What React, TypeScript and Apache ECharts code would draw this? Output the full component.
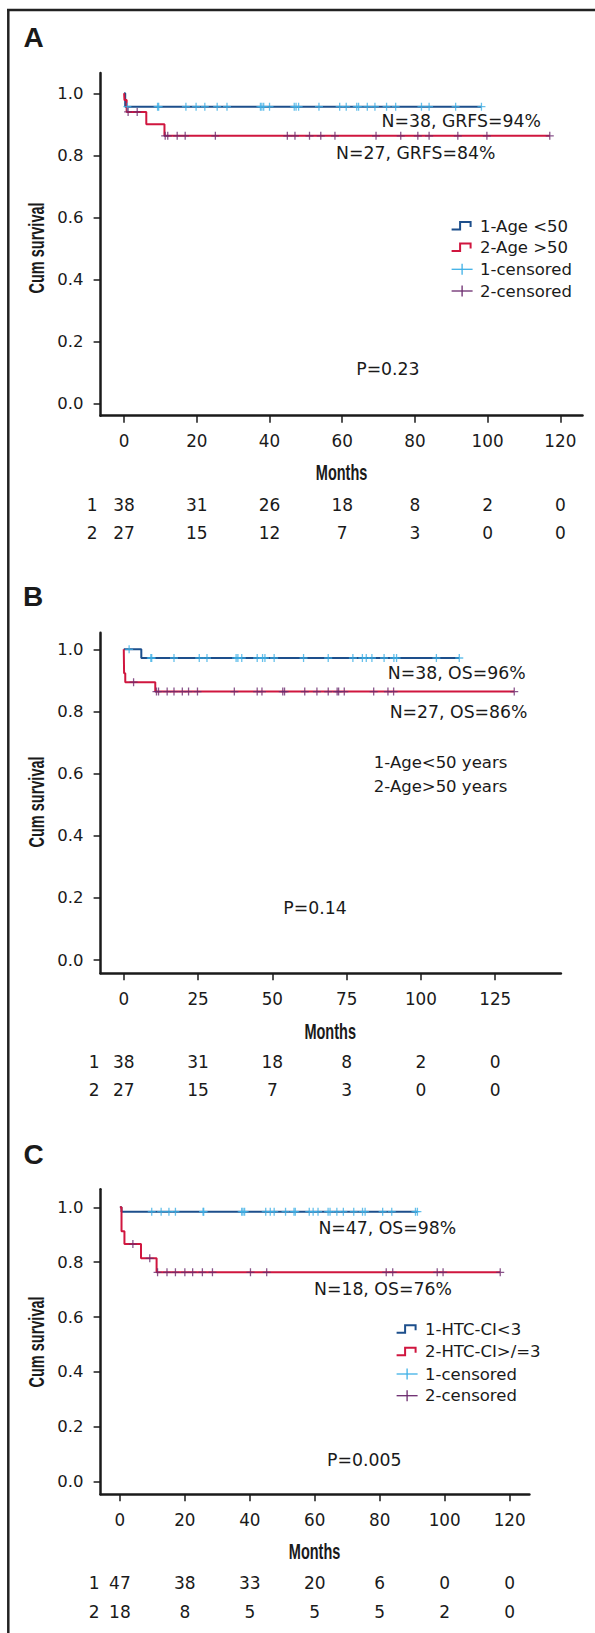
import React, { useEffect, useRef } from "react";
import * as echarts from "echarts";

type Pt = [number, number];

const FONT = "'DejaVu Sans', sans-serif";
const COND = "'Liberation Sans', Arial, sans-serif";
const BLUE = "#1d4f8c";
const RED = "#d0163f";
const LBLUE = "#3fb0e6";
const PURPLE = "#6b2a6e";
const INK = "#1a1a1a";

// ---------- Panel A (GRFS by age) ----------
const aTicks = [0, 20, 40, 60, 80, 100, 120];
const aRisk1 = [38, 31, 26, 18, 8, 2, 0];
const aRisk2 = [27, 15, 12, 7, 3, 0, 0];
const aCurve1: Pt[] = [[0, 1], [0.3, 0.957], [98.3, 0.957]];
const aCurve2: Pt[] = [[0, 1], [0.1, 0.978], [0.7, 0.94], [6.1, 0.9], [11.1, 0.863], [117.1, 0.863]];
const aCens1 = [0.9, 9.2, 9.5, 17.0, 19.8, 22.2, 25.6, 28.3, 37.5, 37.9, 38.4, 40.0, 46.8, 47.3, 48.0, 53.6, 59.3, 61.1, 64.0, 64.5, 66.9, 69.0, 72.2, 74.7, 81.8, 83.9, 91.2, 98.3];
const aCens2 = [1.1, 3.6, 11.3, 12.0, 14.6, 16.8, 25.1, 44.9, 47.0, 51.0, 54.1, 58.0, 69.3, 76.1, 80.8, 83.9, 91.8, 99.8, 117.1];

// ---------- Panel B (OS by age) ----------
const bTicks = [0, 25, 50, 75, 100, 125];
const bRisk1 = [38, 31, 18, 8, 2, 0];
const bRisk2 = [27, 15, 7, 3, 0, 0];
const bCurve1: Pt[] = [[0, 1], [5.9, 0.972], [112.9, 0.972]];
const bCurve2: Pt[] = [[0, 1], [0.1, 0.923], [0.5, 0.894], [10.6, 0.864], [131.4, 0.864]];
const bCens1 = [1.8, 9.1, 9.4, 16.9, 25.4, 28.0, 37.8, 38.4, 39.7, 44.9, 46.7, 47.5, 50.6, 60.5, 68.8, 77.1, 80.3, 81.6, 83.5, 87.6, 90.9, 91.8, 105.2, 112.9];
const bCens2 = [3.3, 11.0, 11.7, 14.6, 16.9, 19.7, 21.8, 24.8, 37.2, 44.9, 46.5, 53.5, 54.1, 60.9, 65.0, 68.8, 71.8, 72.3, 74.2, 84.1, 88.9, 90.8, 131.4];

// ---------- Panel C (OS by HTC-CI) ----------
const cTicks = [0, 20, 40, 60, 80, 100, 120];
const cRisk1 = [47, 38, 33, 20, 6, 0, 0];
const cRisk2 = [18, 8, 5, 5, 5, 2, 0];
const cCurve1: Pt[] = [[0, 1], [0.5, 0.984], [91.6, 0.984]];
const cCurve2: Pt[] = [[0, 1], [0.5, 0.913], [1.4, 0.866], [6.5, 0.814], [11.3, 0.763], [117.1, 0.763]];
const cCens1 = [9.8, 12.7, 15.1, 17.1, 25.6, 25.8, 37.5, 37.9, 38.4, 44.9, 46.3, 47.5, 51.0, 53.6, 54.0, 58.3, 59.5, 61.0, 64.1, 64.7, 66.8, 68.8, 72.0, 74.7, 75.5, 80.9, 83.7, 91.0, 91.6];
const cCens2 = [4.0, 9.2, 11.6, 14.5, 17.1, 20.0, 22.4, 25.4, 28.5, 40.2, 45.2, 82.0, 84.0, 97.7, 99.5, 117.1];

const yTicks = [0, 0.2, 0.4, 0.6, 0.8, 1.0];

const PLUS = "path://M0,4.2H10V5.8H0Z M4.2,0H5.8V10H4.2Z";

const survAt = (curve: Pt[], t: number) => {
  let v = curve[0][1];
  for (const [x, y] of curve) if (x <= t) v = y;
  return v;
};

const LEFT = 100.6;
const ANN = 17.3;

const panels = [
  {
    top: 73, bottom: 415.7, right: 582.5, xMin: -6.47, xMax: 126.1, yMin: -0.04, yMax: 1.0655,
    ticks: aTicks, risk1: aRisk1, risk2: aRisk2, curve1: aCurve1, curve2: aCurve2, cens1: aCens1, cens2: aCens2,
    riskTop: 490.85, riskH: 56.6, rowMargin: 3,
  },
  {
    top: 632.7, bottom: 973.3, right: 560.9, xMin: -7.8, xMax: 147.1, yMin: -0.0428, yMax: 1.0534,
    ticks: bTicks, risk1: bRisk1, risk2: bRisk2, curve1: bCurve1, curve2: bCurve2, cens1: bCens1, cens2: bCens2,
    riskTop: 1048.45, riskH: 55.4, rowMargin: 1,
  },
  {
    top: 1189.3, bottom: 1494.3, right: 529.4, xMin: -5.94, xMax: 126.08, yMin: -0.0459, yMax: 1.0656,
    ticks: cTicks, risk1: cRisk1, risk2: cRisk2, curve1: cCurve1, curve2: cCurve2, cens1: cCens1, cens2: cCens2,
    riskTop: 1568.7, riskH: 58, rowMargin: 1,
  },
];

const txt = (x: number, y: number, text: string, align = "left", size = 16, extra: any = {}) => ({
  type: "text",
  x,
  y,
  silent: true,
  ...extra,
  style: {
    text,
    fill: INK,
    fontSize: size,
    fontFamily: FONT,
    textAlign: align,
    textVerticalAlign: "middle",
    ...(extra.style || {}),
  },
});

const condText = (x: number, y: number, text: string, rot = 0) => ({
  type: "text",
  x,
  y,
  rotation: rot,
  scaleX: 0.66,
  silent: true,
  style: {
    text,
    fill: INK,
    fontSize: 22,
    fontWeight: "bold",
    fontFamily: COND,
    textAlign: "center",
    textVerticalAlign: "middle",
  },
});

const stepIcon = (x: number, yc: number, color: string) => ({
  type: "polyline",
  silent: true,
  shape: { points: [[x, yc + 3.5], [x + 8.5, yc + 3.5], [x + 8.5, yc - 4], [x + 19, yc - 4], [x + 19, yc + 1]] },
  style: { stroke: color, lineWidth: 2, fill: "none" },
});

const censIcon = (x: number, yc: number, color: string) => ({
  type: "group",
  silent: true,
  children: [
    { type: "line", shape: { x1: x, y1: yc, x2: x + 21, y2: yc }, style: { stroke: color, lineWidth: 1.3 } },
    { type: "line", shape: { x1: x + 10.5, y1: yc - 5.5, x2: x + 10.5, y2: yc + 5.5 }, style: { stroke: color, lineWidth: 1.3 } },
  ],
});

function buildOption() {
  const grid: any[] = [];
  const xAxis: any[] = [];
  const yAxis: any[] = [];
  const series: any[] = [];

  panels.forEach((p, i) => {
    const gi = i * 2;
    const w = p.right - LEFT;
    grid.push({ left: LEFT, top: p.top, width: w, height: p.bottom - p.top, outerBoundsMode: "none" });
    grid.push({ left: LEFT, top: p.riskTop, width: w, height: p.riskH, outerBoundsMode: "none" });

    xAxis.push({
      type: "value",
      gridIndex: gi,
      min: p.xMin,
      max: p.xMax,
      splitLine: { show: false },
      axisLine: { show: true, onZero: false, lineStyle: { color: INK, width: 2.5 } },
      axisTick: { show: true, length: 7, customValues: p.ticks, lineStyle: { color: INK, width: 1.5 } },
      axisLabel: { show: true, customValues: p.ticks, margin: 17, fontSize: 16.8, fontFamily: FONT, color: INK },
    });
    xAxis.push({ type: "value", gridIndex: gi + 1, min: p.xMin, max: p.xMax, show: false });

    yAxis.push({
      type: "value",
      gridIndex: gi,
      min: p.yMin,
      max: p.yMax,
      splitLine: { show: false },
      axisLine: { show: true, onZero: false, lineStyle: { color: INK, width: 2.5 } },
      axisTick: { show: true, length: 7, customValues: yTicks, lineStyle: { color: INK, width: 1.5 } },
      axisLabel: {
        show: true,
        customValues: yTicks,
        margin: 17,
        fontSize: 16.5,
        fontFamily: FONT,
        color: INK,
        formatter: (v: number) => v.toFixed(1),
      },
    });
    yAxis.push({
      type: "category",
      gridIndex: gi + 1,
      data: ["1", "2"],
      inverse: true,
      axisLine: { show: false },
      axisTick: { show: false },
      splitLine: { show: false },
      axisLabel: { show: true, margin: p.rowMargin, fontSize: 17, fontFamily: FONT, color: INK },
    });

    series.push({
      type: "line",
      xAxisIndex: gi,
      yAxisIndex: gi,
      step: "end",
      data: p.curve1,
      symbol: "none",
      lineStyle: { color: BLUE, width: 2 },
      z: 2,
    });
    series.push({
      type: "line",
      xAxisIndex: gi,
      yAxisIndex: gi,
      step: "end",
      data: p.curve2,
      symbol: "none",
      lineStyle: { color: RED, width: 2 },
      z: 3,
    });
    series.push({
      type: "scatter",
      xAxisIndex: gi,
      yAxisIndex: gi,
      data: p.cens1.map((t) => [t, survAt(p.curve1, t)]),
      symbol: PLUS,
      symbolSize: 8,
      itemStyle: { color: LBLUE },
      z: 4,
    });
    series.push({
      type: "scatter",
      xAxisIndex: gi,
      yAxisIndex: gi,
      data: p.cens2.map((t) => [t, survAt(p.curve2, t)]),
      symbol: PLUS,
      symbolSize: 8,
      itemStyle: { color: PURPLE },
      z: 5,
    });
    [p.risk1, p.risk2].forEach((row, r) => {
      series.push({
        type: "scatter",
        xAxisIndex: gi + 1,
        yAxisIndex: gi + 1,
        data: p.ticks.map((t, k) => [t, r, row[k]]),
        symbolSize: 0.5,
        itemStyle: { color: "#ffffff", opacity: 1 },
        label: {
          show: true,
          position: "inside",
          formatter: (q: any) => String(q.value[2]),
          fontSize: 17,
          fontFamily: FONT,
          color: INK,
          opacity: 1,
          textBorderWidth: 0,
          textBorderColor: "transparent",
        },
        emphasis: { disabled: true },
      });
    });
  });

  const graphic: any[] = [
    { type: "line", silent: true, shape: { x1: 7, y1: 10, x2: 595, y2: 10 }, style: { stroke: "#222", lineWidth: 2.5 } },
    { type: "line", silent: true, shape: { x1: 8.3, y1: 9, x2: 8.3, y2: 1633 }, style: { stroke: "#222", lineWidth: 2.5 } },
    // panel letters
    txt(33.6, 37, "A", "center", 28, { style: { fontWeight: "bold", fontFamily: COND } }),
    txt(33.2, 596.7, "B", "center", 28, { style: { fontWeight: "bold", fontFamily: COND } }),
    txt(33.6, 1154, "C", "center", 28, { style: { fontWeight: "bold", fontFamily: COND } }),
    // axis titles
    condText(341.6, 472.7, "Months"),
    condText(330.2, 1031, "Months"),
    condText(314.6, 1551.7, "Months"),
    condText(36, 248, "Cum survival", Math.PI / 2),
    condText(36, 802, "Cum survival", Math.PI / 2),
    condText(36, 1342, "Cum survival", Math.PI / 2),
    // panel A annotations
    txt(540.8, 120.7, "N=38, GRFS=94%", "right", ANN),
    txt(495.3, 153.3, "N=27, GRFS=84%", "right", ANN),
    txt(387.9, 369.3, "P=0.23", "center", ANN),
    stepIcon(451.6, 226, BLUE),
    stepIcon(451.6, 247.5, RED),
    censIcon(451.6, 269.3, LBLUE),
    censIcon(451.6, 291, PURPLE),
    txt(480, 226, "1-Age <50", "left", 16.5),
    txt(480, 247.5, "2-Age >50", "left", 16.5),
    txt(480, 269.3, "1-censored", "left", 16.5),
    txt(480, 291, "2-censored", "left", 16.5),
    // panel B annotations
    txt(525.6, 673.3, "N=38, OS=96%", "right", ANN),
    txt(527.5, 711.7, "N=27, OS=86%", "right", ANN),
    txt(373.8, 762.7, "1-Age<50 years", "left", 16.5),
    txt(373.8, 786, "2-Age>50 years", "left", 16.5),
    txt(315, 908.3, "P=0.14", "center", ANN),
    // panel C annotations
    txt(387.3, 1227.7, "N=47, OS=98%", "center", ANN),
    txt(382.9, 1289, "N=18, OS=76%", "center", ANN),
    txt(364.3, 1460, "P=0.005", "center", ANN),
    stepIcon(396.6, 1329.3, BLUE),
    stepIcon(396.6, 1351.7, RED),
    censIcon(396.6, 1374, LBLUE),
    censIcon(396.6, 1395.7, PURPLE),
    txt(425, 1329.3, "1-HTC-CI<3", "left", 16.5),
    txt(425, 1351.7, "2-HTC-CI>/=3", "left", 16.5),
    txt(425, 1374, "1-censored", "left", 16.5),
    txt(425, 1395.7, "2-censored", "left", 16.5),
  ];

  return {
    animation: false,
    backgroundColor: "#ffffff",
    textStyle: { fontFamily: FONT },
    grid,
    xAxis,
    yAxis,
    series,
    graphic,
  };
}

export default function App() {
  const ref = useRef<HTMLDivElement>(null);
  useEffect(() => {
    if (!ref.current) return;
    const chart = echarts.init(ref.current, null, { renderer: "svg" });
    chart.setOption(buildOption() as any);
    return () => chart.dispose();
  }, []);
  return (
    <div
      ref={ref}
      style={{ position: "absolute", left: 0, top: 0, width: 595, height: 1633, background: "#fff" }}
    />
  );
}
